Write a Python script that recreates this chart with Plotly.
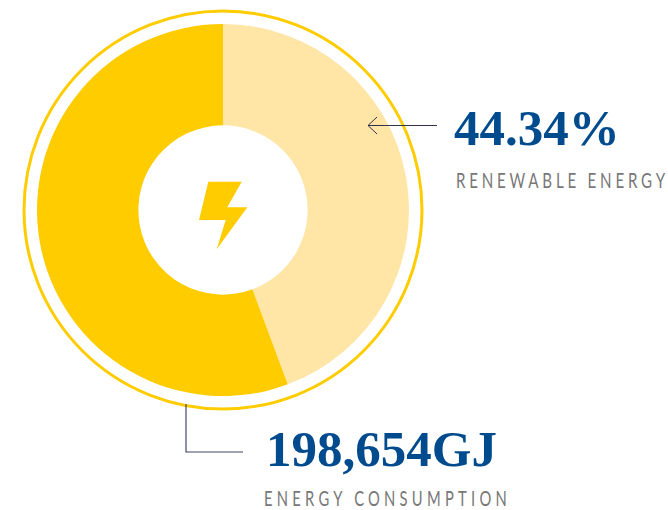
import plotly.graph_objects as go

W, H = 668, 510
categories = ["Renewable energy", "Other energy"]
shares = [44.34, 55.66]
colours = ["#FFE5A6", "#FFCC00"]
value_labels = ["44.34%", "198,654GJ"]
caption_labels = ["RENEWABLE ENERGY", "ENERGY CONSUMPTION"]

CX, CY, R = 223, 210, 186
fig = go.Figure()
fig.add_trace(go.Scatter(x=[None], y=[None], showlegend=False, hoverinfo="skip"))
fig.add_trace(go.Pie(
    labels=categories, values=shares, hole=0.455, sort=False, direction="clockwise",
    rotation=0, marker=dict(colors=colours, line=dict(width=0)), textinfo="none",
    hoverinfo="label+percent", showlegend=False,
    domain=dict(x=[(CX - R) / W, (CX + R) / W], y=[1 - (CY + R) / H, 1 - (CY - R) / H]),
))

ax = dict(xref="x", yref="y", layer="above")
shapes = [
    dict(type="circle", x0=CX - 199, x1=CX + 199, y0=CY - 199, y1=CY + 199,
         line=dict(color="#FFCC00", width=3), **ax),
    dict(type="path", fillcolor="#FFCC00", line=dict(width=0),
         path="M208.3,181.7 L241.7,181.7 L227.3,207.3 L247.3,207.3 L216.7,249.3 L225.7,220 L199,220 Z", **ax),
    dict(type="path", line=dict(color="#33334F", width=1),
         path="M437,125.5 L368,125.5 M377,117 L368,125.5 L377,134", **ax),
    dict(type="path", line=dict(color="#45456A", width=1.2),
         path="M186,404 L186,452 L243,452", **ax),
]

def text(x, y, s, font):
    return dict(x=x, y=y, text=s, xref="x", yref="y", xanchor="left", yanchor="middle", align="left",
                showarrow=False, font=font, borderpad=0)

big = dict(family="Liberation Serif", size=51, color="#004B8D", weight="bold")
small = dict(family="Lato", size=21, color="#777777")
small_low = dict(family="Lato", size=20.5, color="#777777")
anns = [
    text(453, 128, value_labels[0], big),
    text(455, 179.5, caption_labels[0], small),
    text(265, 449, value_labels[1], big),
    text(263, 497.5, caption_labels[1], small_low),
]

fig.update_layout(
    width=W, height=H, margin=dict(l=0, r=0, t=0, b=0), paper_bgcolor="white", plot_bgcolor="white",
    xaxis=dict(range=[0, W], visible=False, domain=[0, 1], fixedrange=True),
    yaxis=dict(range=[H, 0], visible=False, domain=[0, 1], fixedrange=True),
    shapes=shapes, annotations=anns,
)
post = """
document.body.style.margin='0';
document.documentElement.style.overflow='hidden';
var fit={'RENEWABLE ENERGY':213,'ENERGY CONSUMPTION':247};
var s=0.72;
document.querySelectorAll('.annotation-text').forEach(function(t){
  var w=fit[t.textContent];
  if(w){
    var n=t.textContent.length, natural=t.getComputedTextLength();
    t.style.letterSpacing=((w/s-natural)/n)+'px';
    var x=parseFloat(t.getAttribute('x'))||0;
    t.setAttribute('transform','translate('+x+',0) scale('+s+',1) translate('+(-x)+',0)');
  }
});
"""
fig.write_html("out.html", post_script=post, config=dict(displayModeBar=False))
